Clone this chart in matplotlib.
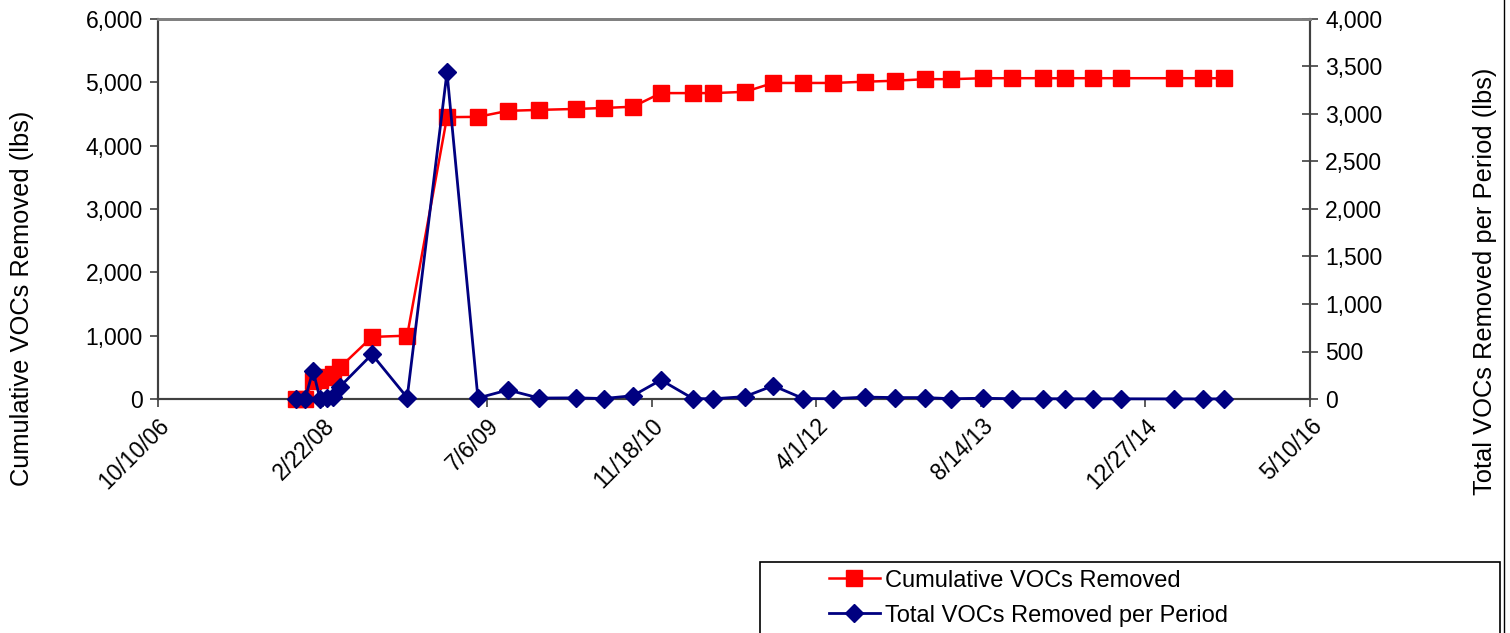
import numpy as np
import pandas as pd
import matplotlib
matplotlib.use("Agg")
import matplotlib.pyplot as plt
from matplotlib.patches import Rectangle
from matplotlib.lines import Line2D

plt.rcParams['font.family'] = ['Liberation Sans', 'DejaVu Sans']

########## Sampling dates ##########
dates = pd.to_datetime([
    "2007-12-03", "2007-12-31", "2008-01-24", "2008-02-14", "2008-03-06",
    "2008-03-25", "2008-04-15", "2008-07-21", "2008-11-05", "2009-03-06",
    "2009-06-08", "2009-09-07", "2009-12-11", "2010-04-02", "2010-06-26",
    "2010-09-22", "2010-12-16", "2011-03-23", "2011-05-23", "2011-08-28",
    "2011-11-22", "2012-02-21", "2012-05-22", "2012-08-27", "2012-11-26",
    "2013-02-25", "2013-05-15", "2013-08-21", "2013-11-17", "2014-02-19",
    "2014-04-27", "2014-07-21", "2014-10-14", "2015-03-24", "2015-06-20",
    "2015-08-23",
])

########## Cumulative VOCs removed (lbs) ##########
cumulative = [
    0, 0, 290, 300, 340, 390, 500, 980, 1000, 4450,
    4455, 4550, 4565, 4580, 4595, 4615, 4830, 4830, 4830, 4850,
    4990, 4990, 4990, 5010, 5025, 5050, 5050, 5065, 5065, 5065,
    5065, 5065, 5065, 5065, 5065, 5065,
]

########## VOCs removed per period (lbs) ##########
per_period = [
    0, 2, 300, 5, 10, 20, 130, 470, 15, 3440,
    10, 95, 10, 12, 5, 35, 200, 5, 2, 25,
    140, 5, 3, 20, 15, 15, 3, 8, 3, 3,
    2, 2, 2, 1, 1, 1,
]

##### Axis ranges #####
x_start = pd.Timestamp("2006-10-10")
x_end = pd.Timestamp("2016-05-10")
x_ticks = [x_start + pd.Timedelta(days=500 * i) for i in range(8)]
x_labels = [f"{d.month}/{d.day}/{d:%y}" for d in x_ticks]

red = "#FF0000"
navy = "#000080"
spine_col = "#404040"
tick_fs = 16.5
title_fs = 18.4
legend_fs = 17

fig = plt.figure(figsize=(15.1, 6.33), dpi=100)
ax = fig.add_axes([158/1510, 1 - 399/633, (1310 - 158)/1510, (399 - 19)/633])
ax2 = ax.twinx()

ax.plot(dates, cumulative, color=red, lw=1.8, marker="s", ms=11,
        mec=red, mfc=red, clip_on=False, zorder=3)
ax2.plot(dates, per_period, color=navy, lw=2.0, marker="D", ms=9.5,
         mec=navy, mfc=navy, clip_on=False, zorder=3)

ax.set_xlim(x_start, x_end)
ax.set_ylim(0, 6000)
ax2.set_ylim(0, 4000)
ax.set_yticks(np.arange(0, 6001, 1000))
ax2.set_yticks(np.arange(0, 4001, 500))
fmt = matplotlib.ticker.FuncFormatter(lambda v, p: f"{v:,.0f}")
ax.yaxis.set_major_formatter(fmt)
ax2.yaxis.set_major_formatter(fmt)

ax.set_xticks(x_ticks)
ax.set_xticklabels(x_labels, rotation=45, ha="right", rotation_mode="anchor")

##### Spines and ticks #####
for a in (ax, ax2):
    a.spines["top"].set_color("#808080")
    a.spines["top"].set_linewidth(2)
    for s in ("left", "right", "bottom"):
        a.spines[s].set_color(spine_col)
        a.spines[s].set_linewidth(1.5)

ax.tick_params(axis="y", direction="out", length=6, width=1.2, color=spine_col,
               labelsize=tick_fs, pad=5)
ax.tick_params(axis="x", direction="out", length=6, width=1.2, color=spine_col,
               labelsize=tick_fs, pad=5)
ax2.tick_params(axis="y", direction="inout", length=12, width=1.2, color=spine_col,
                labelsize=tick_fs, pad=5)

##### Axis titles #####
fig.text(22/1510, 1 - 298/633, "Cumulative VOCs Removed (lbs)", rotation=90,
         ha="center", va="center", fontsize=title_fs)
fig.text(1485/1510, 1 - 281/633, "Total VOCs Removed per Period (lbs)", rotation=90,
         ha="center", va="center", fontsize=title_fs)

##### Legend box #####
fig.patches.append(Rectangle((760/1510, -0.05), (1500 - 760)/1510, 0.05 + 1 - 562/633,
                             transform=fig.transFigure, fill=False, ec="black", lw=1.2))
handles = [
    Line2D([], [], color=red, lw=1.8, marker="s", ms=11, mec=red),
    Line2D([], [], color=navy, lw=2.0, marker="D", ms=9.5, mec=navy),
]
fig.legend(handles, ["Cumulative VOCs Removed", "Total VOCs Removed per Period"],
           loc="upper left", bbox_to_anchor=(812/1510, 1 - 553/633), frameon=False,
           fontsize=legend_fs, handlelength=2.2, handletextpad=0.2, labelspacing=0.55,
           borderpad=0.2)

##### Right border line #####
fig.add_artist(Line2D([1504/1510, 1504/1510], [0, 1], transform=fig.transFigure,
                      color="black", lw=1))

fig.savefig("out.png", dpi=100)
